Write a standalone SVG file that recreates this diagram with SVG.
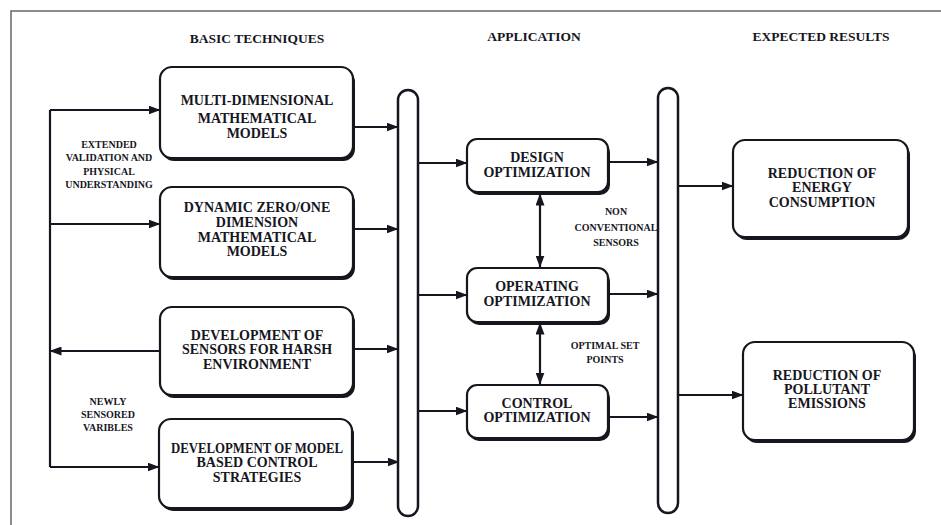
<svg xmlns="http://www.w3.org/2000/svg" width="941" height="525" viewBox="0 0 941 525">
  <style>
    .frame { fill: none; stroke: #6a6470; stroke-width: 1.5; }
    .shadow { fill: #16161e; }
    .box { fill: #ffffff; stroke: #16161e; stroke-width: 2.2; }
    .bus { fill: #ffffff; stroke: #16161e; stroke-width: 2.5; }
    .wire { fill: none; stroke: #16161e; stroke-width: 2.2; }
    .head { font-family: "Liberation Serif", serif; font-weight: bold; font-size: 13.5px; fill: #16161e; text-anchor: middle; }
    .txt { font-family: "Liberation Serif", serif; font-weight: bold; font-size: 14px; fill: #16161e; text-anchor: middle; }
    .lbl { font-family: "Liberation Serif", serif; font-weight: bold; font-size: 10px; fill: #16161e; text-anchor: middle; }
  </style>
  <defs>
    <marker id="arr" viewBox="0 0 12 9" refX="11.5" refY="4.5" markerWidth="12" markerHeight="9" markerUnits="userSpaceOnUse" orient="auto-start-reverse">
      <path d="M0,0 L12,4.5 L0,9 Z" fill="#16161e"/>
    </marker>
  </defs>

  <rect x="0" y="0" width="941" height="525" fill="#ffffff"/>
  <!-- page frame -->
  <path class="frame" d="M11,525 V11 H941"/>

  <!-- column headings -->
  <text class="head" x="257" y="43">BASIC TECHNIQUES</text>
  <text class="head" x="534" y="41">APPLICATION</text>
  <text class="head" x="821" y="41">EXPECTED RESULTS</text>

  <!-- connectors -->
  <g id="connectors">
    <path class="wire" d="M50,110 V467"/>
    <path class="wire" d="M50,110 H160" marker-end="url(#arr)"/>
    <path class="wire" d="M50,224 H160" marker-end="url(#arr)"/>
    <path class="wire" d="M160,351 H50" marker-end="url(#arr)"/>
    <path class="wire" d="M50,467 H159" marker-end="url(#arr)"/>

    <path class="wire" d="M354,127 H398" marker-end="url(#arr)"/>
    <path class="wire" d="M354,229 H398" marker-end="url(#arr)"/>
    <path class="wire" d="M354,349 H398" marker-end="url(#arr)"/>
    <path class="wire" d="M353,462 H399" marker-end="url(#arr)"/>

    <path class="wire" d="M418,163 H467" marker-end="url(#arr)"/>
    <path class="wire" d="M418,295 H467" marker-end="url(#arr)"/>
    <path class="wire" d="M418,411 H467" marker-end="url(#arr)"/>

    <path class="wire" d="M609,162 H658" marker-end="url(#arr)"/>
    <path class="wire" d="M609,294 H658" marker-end="url(#arr)"/>
    <path class="wire" d="M609,417 H658" marker-end="url(#arr)"/>

    <path class="wire" d="M678,186 H733" marker-end="url(#arr)"/>
    <path class="wire" d="M678,395 H743" marker-end="url(#arr)"/>

    <path class="wire" d="M540,194 V267" marker-start="url(#arr)" marker-end="url(#arr)"/>
    <path class="wire" d="M540,323 V384" marker-start="url(#arr)" marker-end="url(#arr)"/>

    <g class="lbl">
      <text x="109" y="148">EXTENDED</text>
      <text x="109" y="161">VALIDATION AND</text>
      <text x="109" y="175">PHYSICAL</text>
      <text x="109" y="188">UNDERSTANDING</text>
      <text x="108" y="405">NEWLY</text>
      <text x="108" y="418">SENSORED</text>
      <text x="108" y="431">VARIBLES</text>
      <text x="616" y="215">NON</text>
      <text x="616" y="231">CONVENTIONAL</text>
      <text x="616" y="246">SENSORS</text>
      <text x="605" y="349">OPTIMAL SET</text>
      <text x="605" y="363">POINTS</text>
    </g>
  </g>

  <!-- collecting bars -->
  <g id="bus-techniques">
    <rect class="bus" x="398" y="90" width="20" height="426" rx="10"/>
  </g>
  <g id="bus-application">
    <rect class="bus" x="658" y="88" width="20" height="425" rx="10"/>
  </g>

  <!-- basic techniques -->
  <g id="multi-dimensional">
    <rect class="shadow" x="162" y="70" width="193" height="91" rx="12"/>
    <rect class="box" x="160" y="67" width="193" height="91" rx="12"/>
    <text class="txt" x="257" y="105">MULTI-DIMENSIONAL</text>
    <text class="txt" x="257" y="123">MATHEMATICAL</text>
    <text class="txt" x="257" y="138">MODELS</text>
  </g>
  <g id="zero-one-dimension">
    <rect class="shadow" x="162" y="190" width="193" height="90" rx="12"/>
    <rect class="box" x="160" y="187" width="193" height="90" rx="12"/>
    <text class="txt" x="257" y="212">DYNAMIC ZERO/ONE</text>
    <text class="txt" x="257" y="227">DIMENSION</text>
    <text class="txt" x="257" y="242">MATHEMATICAL</text>
    <text class="txt" x="257" y="256">MODELS</text>
  </g>
  <g id="harsh-sensors">
    <rect class="shadow" x="162" y="310" width="193" height="88" rx="12"/>
    <rect class="box" x="160" y="307" width="193" height="88" rx="12"/>
    <text class="txt" x="257" y="340">DEVELOPMENT OF</text>
    <text class="txt" x="257" y="354">SENSORS FOR HARSH</text>
    <text class="txt" x="257" y="369">ENVIRONMENT</text>
  </g>
  <g id="model-based-control">
    <rect class="shadow" x="161" y="422" width="193" height="89" rx="12"/>
    <rect class="box" x="159" y="419" width="193" height="89" rx="12"/>
    <text class="txt" x="257" y="453" textLength="172" lengthAdjust="spacingAndGlyphs">DEVELOPMENT OF MODEL</text>
    <text class="txt" x="257" y="467">BASED CONTROL</text>
    <text class="txt" x="257" y="482">STRATEGIES</text>
  </g>

  <!-- application -->
  <g id="design-optimization">
    <rect class="shadow" x="469" y="142" width="141" height="53" rx="10"/>
    <rect class="box" x="467" y="139" width="141" height="53" rx="10"/>
    <text class="txt" x="537" y="162">DESIGN</text>
    <text class="txt" x="537" y="177">OPTIMIZATION</text>
  </g>
  <g id="operating-optimization">
    <rect class="shadow" x="469" y="271" width="141" height="54" rx="10"/>
    <rect class="box" x="467" y="268" width="141" height="54" rx="10"/>
    <text class="txt" x="537" y="291">OPERATING</text>
    <text class="txt" x="537" y="306">OPTIMIZATION</text>
  </g>
  <g id="control-optimization">
    <rect class="shadow" x="469" y="388" width="141" height="53" rx="10"/>
    <rect class="box" x="467" y="385" width="141" height="53" rx="10"/>
    <text class="txt" x="537" y="408">CONTROL</text>
    <text class="txt" x="537" y="422">OPTIMIZATION</text>
  </g>

  <!-- expected results -->
  <g id="energy-reduction">
    <rect class="shadow" x="735" y="143" width="175" height="97" rx="12"/>
    <rect class="box" x="733" y="140" width="175" height="97" rx="12"/>
    <text class="txt" x="822" y="178">REDUCTION OF</text>
    <text class="txt" x="822" y="192">ENERGY</text>
    <text class="txt" x="822" y="207">CONSUMPTION</text>
  </g>
  <g id="pollutant-reduction">
    <rect class="shadow" x="745" y="345" width="171" height="98" rx="12"/>
    <rect class="box" x="743" y="342" width="171" height="98" rx="12"/>
    <text class="txt" x="827" y="380">REDUCTION OF</text>
    <text class="txt" x="827" y="394">POLLUTANT</text>
    <text class="txt" x="827" y="408">EMISSIONS</text>
  </g>
</svg>
